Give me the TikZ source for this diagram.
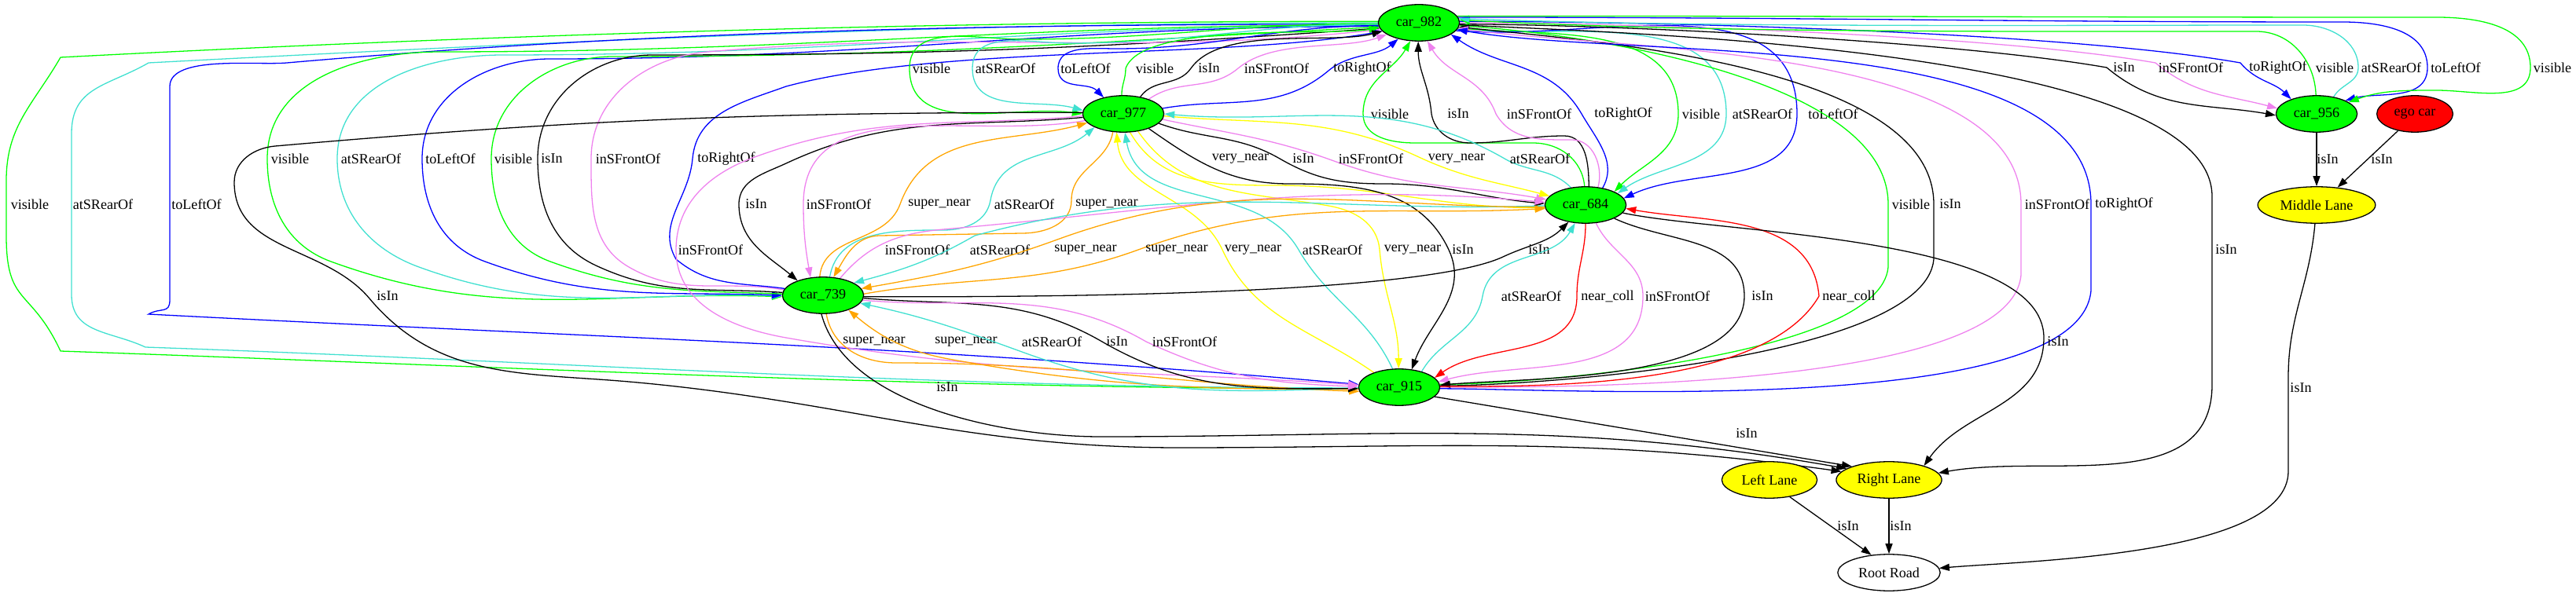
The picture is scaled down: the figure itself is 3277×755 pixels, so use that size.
\documentclass[tikz,border=0pt]{standalone}
\usepackage{fontspec}
\setmainfont{Liberation Serif}
\usetikzlibrary{arrows.meta, shapes.geometric}
\pgfdeclarelayer{edges}
\pgfsetlayers{edges,main}

\definecolor{gvgreen}{HTML}{00FF00}
\definecolor{gvturq}{HTML}{40E0D0}
\definecolor{gvblue}{HTML}{0000FF}
\definecolor{gvviolet}{HTML}{EE82EE}
\definecolor{gvyellow}{HTML}{FFFF00}
\definecolor{gvorange}{HTML}{FFA500}
\definecolor{gvred}{HTML}{FF0000}
\newcommand{\gvfont}{\fontsize{14pt}{16pt}\selectfont}

\begin{document}
\begin{tikzpicture}[
  x=0.775pt, y=-0.775pt,
  font=\gvfont,
  >={Triangle[length=10pt, width=7pt]},
  blob/.style  ={ellipse, draw, line width=1pt, inner sep=0pt, minimum width=80pt, minimum height=36pt},
  car/.style   ={blob, fill=gvgreen},
  egocar/.style={blob, fill=gvred, minimum width=75pt},
  lane/.style  ={blob, fill=gvyellow},
  road/.style  ={blob, fill=white, minimum width=101pt},
  rel/.style   ={->, line width=1pt},
  vis/.style   ={rel, draw=gvgreen},
  rear/.style  ={rel, draw=gvturq},
  lr/.style    ={rel, draw=gvblue},
  isin/.style  ={rel, draw=black},
  front/.style ={rel, draw=gvviolet},
  vnear/.style ={rel, draw=gvyellow},
  snear/.style ={rel, draw=gvorange},
  ncoll/.style ={rel, draw=gvred},
  lbl/.style   ={text=black, inner sep=0pt},
  % out angle, in angle, control distance
  gv/.style n args={3}{to path={.. controls +({-(#1)}:#3) and +({-(#2)}:#3) .. (\tikztotarget) \tikztonodes}},
]
\useasboundingbox (0,0) rectangle (3277,755);

% --- cars, lanes and road ---
\node[car] (c982) at (1805,29) {car\_982};
\node[car] (c977) at (1429,145) {car\_977};
\node[car] (c956) at (2947,145) {car\_956};
\node[egocar] (ego) at (3072,145) {ego car};
\node[car] (c684) at (2017,261) {car\_684};
\node[lane, minimum width=116pt] (midln) at (2947,261) {Middle Lane};
\node[car] (c739) at (1047,376) {car\_739};
\node[car] (c915) at (1780,493) {car\_915};
\node[lane, minimum width=94pt] (leftln) at (2251,611) {Left Lane};
\node[lane, minimum width=104pt] (rightln) at (2403,611) {Right Lane};
\node[road] (root) at (2403,729) {Root Road};

\begin{pgfonlayer}{edges}
% --- car_982 -> car_915, round the left side ---
\draw[vis]  (c982.178) to[gv={180}{3}{560}] (77,73) to[gv={-120}{90}{70}] (8,230) -- (8,300) to[gv={-90}{115}{90}] (77,447) to[gv={-2}{180}{550}] (c915.182) node[lbl] at (38,260) {visible};
\draw[rear] (c982.180) to[gv={180}{3}{540}] (189,80) to[gv={-150}{90}{60}] (91,170) -- (91,375) to[gv={-90}{155}{50}] (185,442) to[gv={-2}{180}{540}] (c915.181) node[lbl] at (131,260) {atSRearOf};
\draw[lr]   (c982.182) to[gv={180}{5}{480}] (365,80) to[gv={185}{90}{40}] (216,110) -- (216,382) to[gv={-90}{30}{18}] (189,400) to[gv={-3}{175}{570}] (c915.176) node[lbl] at (250,260) {toLeftOf};

% --- car_982 <-> car_739 ---
\draw[vis]  (c982.183) to[gv={180}{0}{466}] (560,66) to[gv={180}{90}{101}] (340,202) to[gv={-90}{160}{60}] (421,333) to[gv={-20}{178}{225}] (c739.182) node[lbl] at (369,202) {visible};
\draw[rear] (c982.184) to[gv={180}{0}{434}] (640,70) to[gv={180}{90}{97}] (429,202) to[gv={-90}{160}{67}] (533,340) to[gv={-20}{178}{181}] (c739.181) node[lbl] at (472,202) {atSRearOf};
\draw[lr]   (c982.185) to[gv={180}{0}{411}] (700,75) to[gv={180}{90}{81}] (537,202) to[gv={-90}{160}{60}] (617,333) to[gv={-20}{178}{148}] (c739.180) node[lbl] at (573,202) {toLeftOf};
\draw[vis]  (c739.178) to[gv={178}{-20}{116}] (700,333) to[gv={160}{-90}{59}] (625,202) to[gv={90}{180}{79}] (780,72) to[gv={0}{183}{380}] (c982.186) node[lbl] at (653,202) {visible};
\draw[isin] (c739.176) to[gv={176}{-25}{94}] (758,338) to[gv={155}{-90}{60}] (684,202) to[gv={90}{180}{77}] (830,70) to[gv={0}{184}{360}] (c982.188) node[lbl] at (702,202) {isIn};
\draw[front] (c739.172) to[gv={170}{-30}{77}] (800,340) to[gv={150}{-90}{57}] (752,202) to[gv={90}{185}{78}] (900,66) to[gv={5}{186}{333}] (c982.190) node[lbl] at (799,202) {inSFrontOf};
\draw[lr]   (c739.170) to[gv={172}{-40}{55}] (860,330) to[gv={120}{-95}{51}] (881,202) to[gv={85}{200}{59}] (1000,110) to[gv={15}{190}{207}] (c982.193) node[lbl] at (924,202) {toRightOf};

% --- car_982 <-> car_977 ---
\draw[vis]  (c982.181) to[gv={180}{0}{177}] (1300,50) to[gv={180}{90}{58}] (1157,87) to[gv={-90}{172}{89}] (c977.180) node[lbl] at (1185,87) {visible};
\draw[rear] (c982.182) to[gv={180}{0}{154}] (1360,55) to[gv={180}{90}{50}] (1237,87) to[gv={-90}{165}{59}] (c977.175) node[lbl] at (1279,87) {atSRearOf};
\draw[lr]   (c982.184) to[gv={180}{0}{131}] (1420,62) to[gv={180}{90}{30}] (1346,87) to[gv={-90}{135}{29}] (c977.140) node[lbl] at (1381,87) {toLeftOf};
\draw[vis]  (c977.95) to[gv={90}{-90}{14}] (1432,87) to[gv={70}{190}{64}] (c982.187) node[lbl] at (1469,87) {visible};
\draw[isin] (c977.45) to[gv={55}{-125}{29}] (1515,87) to[gv={55}{195}{67}] (c982.193) node[lbl] at (1538,87) {isIn};
\draw[front] (c977.30) to[gv={35}{-140}{47}] (1575,87) to[gv={40}{200}{59}] (c982.200) node[lbl] at (1624,87) {inSFrontOf};
\draw[lr]   (c977.8) to[gv={10}{-140}{84}] (1690,90) to[gv={40}{220}{35}] (c982.218) node[lbl] at (1733,87) {toRightOf};

% --- car_982 <-> car_684 ---
\draw[vis]  (c684.93) to[gv={95}{0}{34}] (1950,182) -- (1800,182) to[gv={180}{-90}{30}] (1734,145) to[gv={90}{240}{43}] (c982.245) node[lbl] at (1768,145) {visible};
\draw[isin] (c684.80) to[gv={90}{0}{28}] (1990,173) to[gv={180}{0}{47}] (1870,182) to[gv={180}{-80}{24}] (1821,145) to[gv={95}{-90}{37}] (c982.268) node[lbl] at (1855,145) {isIn};
\draw[front] (c684.55) to[gv={75}{0}{27}] (2000,178) to[gv={180}{-60}{40}] (1903,145) to[gv={110}{-60}{50}] (c982.295) node[lbl] at (1958,145) {inSFrontOf};
\draw[lr]   (c684.45) to[gv={60}{-60}{38}] (2012,145) to[gv={120}{-35}{76}] (c982.340) node[lbl] at (2065,145) {toRightOf};
\draw[vis]  (c982.-8) to[gv={-5}{90}{117}] (2135,145) to[gv={-90}{45}{50}] (c684.25) node[lbl] at (2164,145) {visible};
\draw[rear] (c982.-10) to[gv={-5}{90}{139}] (2196,145) to[gv={-90}{35}{65}] (c684.20) node[lbl] at (2242,145) {atSRearOf};
\draw[lr]   (c982.-12) to[gv={-5}{90}{173}] (2286,145) to[gv={-90}{25}{95}] (c684.10) node[lbl] at (2332,145) {toLeftOf};

% --- car_982 <-> car_956 ---
\draw[isin] (c982.-2) to[gv={0}{170}{193}] (2680,86) to[gv={-40}{170}{87}] (c956.182) node[lbl] at (2702,86) {isIn};
\draw[front] (c982.0) to[gv={0}{170}{207}] (2742,80) to[gv={-40}{165}{64}] (c956.172) node[lbl] at (2787,86) {inSFrontOf};
\draw[lr]   (c982.2) to[gv={0}{170}{233}] (2850,80) to[gv={-50}{135}{31}] (c956.150) node[lbl] at (2898,86) {toRightOf};
\draw[vis]  (c956.92) to[gv={92}{0}{44}] (2870,40) to[gv={180}{-3}{316}] (c982.4) node[lbl] at (2970,86) {visible};
\draw[rear] (c956.45) to[gv={60}{-90}{19}] (3000,86) to[gv={90}{0}{34}] (2930,32) to[gv={180}{-2}{335}] (c982.6) node[lbl] at (3042,86) {atSRearOf};
\draw[lr]   (c982.8) to[gv={0}{180}{440}] (2980,28) to[gv={0}{90}{48}] (3088,86) to[gv={-90}{15}{44}] (c956.25) node[lbl] at (3124,86) {toLeftOf};
\draw[vis]  (c982.10) to[gv={0}{180}{486}] (3100,22) to[gv={0}{90}{53}] (3219,86) to[gv={-90}{0}{48}] (3100,115) to[gv={180}{20}{44}] (c956.20) node[lbl] at (3247,86) {visible};

% --- car_915 -> car_982, round the right side ---
\draw[vis]  (c915.4) to[gv={0}{-95}{115}] (2402,340) -- (2402,260) to[gv={90}{-4}{161}] (c982.-4) node[lbl] at (2431,260) {visible};
\draw[isin] (c915.2) to[gv={0}{-95}{126}] (2460,330) -- (2460,260) to[gv={90}{-6}{176}] (c982.-6) node[lbl] at (2481,260) {isIn};
\draw[front] (c915.0) to[gv={0}{-95}{147}] (2571,350) -- (2571,260) to[gv={90}{-8}{204}] (c982.-8) node[lbl] at (2617,260) {inSFrontOf};
\draw[lr]   (c915.-2) to[gv={0}{-95}{163}] (2660,370) -- (2660,260) to[gv={90}{-10}{228}] (c982.-10) node[lbl] at (2702,260) {toRightOf};
\draw[isin] (c982.-3) to[gv={-3}{90}{191}] (2814,250) -- (2814,490) to[gv={-90}{10}{143}] (rightln.8) node[lbl] at (2832,318) {isIn};

% --- car_977 <-> car_739 ---
\draw[isin] (c977.185) to[gv={185}{25}{149}] (1000,208) to[gv={205}{90}{31}] (940,260) to[gv={-90}{140}{48}] (c739.150) node[lbl] at (962,260) {isIn};
\draw[front] (c977.190) to[gv={190}{90}{145}] (1022,260) to[gv={-90}{100}{36}] (c739.125) node[lbl] at (1067,260) {inSFrontOf};
\draw[snear] (c739.100) to[gv={85}{-110}{54}] (1145,260) to[gv={70}{195}{102}] (c977.194) node[lbl] at (1195,260) {super\_near};
\draw[rear] (c739.70) to[gv={80}{180}{61}] (1200,293) to[gv={0}{-100}{28}] (1260,255) to[gv={80}{-140}{65}] (c977.205) node[lbl] at (1303,260) {atSRearOf};
\draw[snear] (c977.240) to[gv={-100}{90}{40}] (1363,255) to[gv={-90}{0}{30}] (1300,297) -- (1120,300) to[gv={180}{60}{31}] (c739.60) node[lbl] at (1408,260) {super\_near};

% --- car_977 <-> car_684 ---
\draw[vnear] (c977.-70) to[gv={-60}{180}{76}] (1620,236) to[gv={0}{180}{135}] (c684.184) node[lbl] at (1578,202) {very\_near};
\draw[isin] (c977.-15) to[gv={-20}{150}{62}] (1628,202) to[gv={-30}{180}{53}] (1760,234) to[gv={0}{175}{80}] (c684.178) node[lbl] at (1658,202) {isIn};
\draw[front] (c977.-8) to[gv={-12}{160}{87}] (1697,205) to[gv={-20}{170}{107}] (c684.172) node[lbl] at (1744,202) {inSFrontOf};
\draw[vnear] (c977.-3) to[gv={-5}{155}{128}] (1805,200) to[gv={-25}{165}{66}] (c684.166) node[lbl] at (1853,202) {very\_near};
\draw[rear] (c684.130) to[gv={135}{-30}{36}] (1914,202) to[gv={150}{-5}{170}] (c977.0) node[lbl] at (1959,202) {atSRearOf};

% --- car_977 <-> car_915 ---
\draw[front] (c977.183) to[gv={185}{20}{164}] (960,200) to[gv={200}{90}{60}] (860,318) to[gv={-90}{170}{70}] (1000,430) to[gv={-10}{176}{285}] (c915.177) node[lbl] at (904,318) {inSFrontOf};
\draw[vnear] (c915.150) to[gv={145}{-65}{97}] (1555,318) to[gv={115}{-85}{78}] (c977.250) node[lbl] at (1594,318) {very\_near};
\draw[rear] (c915.110) to[gv={115}{-60}{75}] (1652,318) to[gv={120}{-80}{104}] (c977.275) node[lbl] at (1695,318) {atSRearOf};
\draw[vnear] (c977.-50) to[gv={-55}{170}{101}] (1690,262) to[gv={-10}{95}{34}] (1755,318) to[gv={-85}{90}{60}] (c915.92) node[lbl] at (1797,318) {very\_near};
\draw[isin] (c977.-30) to[gv={-35}{180}{75}] (1640,234) to[gv={0}{115}{86}] (1843,318) to[gv={-65}{70}{62}] (c915.55) node[lbl] at (1861,318) {isIn};

% --- car_739 <-> car_684 ---
\draw[front] (c739.45) to[gv={50}{185}{57}] (1200,292) to[gv={5}{175}{299}] (c684.176) node[lbl] at (1167,318) {inSFrontOf};
\draw[rear] (c684.181) to[gv={182}{15}{283}] (1240,300) to[gv={210}{15}{64}] (c739.22) node[lbl] at (1272,318) {atSRearOf};
\draw[snear] (c684.183) to[gv={180}{20}{242}] (1345,305) to[gv={200}{10}{100}] (c739.10) node[lbl] at (1381,318) {super\_near};
\draw[snear] (c739.2) to[gv={10}{-160}{138}] (1448,318) to[gv={20}{183}{203}] (c684.185) node[lbl] at (1497,318) {super\_near};
\draw[isin] (c739.-2) to[gv={0}{-155}{127}] (1912,327) to[gv={25}{-135}{37}] (c684.225) node[lbl] at (1958,318) {isIn};

% --- car_739 <-> car_915 ---
\draw[snear] (c739.-80) to[gv={-80}{180}{43}] (1140,462) to[gv={0}{178}{230}] (c915.186) node[lbl] at (1112,435) {super\_near};
\draw[snear] (c915.183) to[gv={180}{-10}{202}] (1212,458) to[gv={170}{-40}{57}] (c739.-30) node[lbl] at (1229,435) {super\_near};
\draw[rear] (c915.181) to[gv={182}{-20}{168}] (1300,448) to[gv={160}{-12}{83}] (c739.-12) node[lbl] at (1338,435) {atSRearOf};
\draw[isin] (c739.-4) to[gv={-5}{150}{120}] (1402,435) to[gv={-30}{180}{129}] (c915.182) node[lbl] at (1421,435) {isIn};
\draw[front] (c739.-7) to[gv={-5}{150}{142}] (1458,435) to[gv={-25}{178}{108}] (c915.179) node[lbl] at (1507,435) {inSFrontOf};

% --- car_684 <-> car_915 ---
\draw[rear] (c915.35) to[gv={60}{-100}{48}] (1886,377) to[gv={80}{-120}{59}] (c684.240) node[lbl] at (1948,377) {atSRearOf};
\draw[ncoll] (c684.-90) to[gv={-90}{90}{37}] (2006,377) to[gv={-90}{35}{81}] (c915.15) node[lbl] at (2045,377) {near\_coll};
\draw[front] (c684.-60) to[gv={-65}{90}{43}] (2090,377) to[gv={-90}{15}{110}] (c915.8) node[lbl] at (2134,377) {inSFrontOf};
\draw[isin] (c684.-25) to[gv={-25}{90}{75}] (2219,377) to[gv={-90}{5}{110}] (c915.3) node[lbl] at (2242,377) {isIn};
\draw[ncoll] (c915.1) to[gv={0}{-120}{135}] (2314,377) to[gv={95}{-10}{105}] (c684.-5) node[lbl] at (2352,377) {near\_coll};

% --- lanes and road ---
\draw[isin] (c684.-12) to[gv={-12}{90}{131}] (2600,430) to[gv={-90}{55}{87}] (rightln.22) node[lbl] at (2618,435) {isIn};
\draw[isin] (c915.-15) -- (rightln.160) node[lbl] at (2222,552) {isIn};
\draw[isin] (c739.-95) to[gv={-75}{180}{121}] (1400,556) to[gv={0}{170}{367}] (rightln.165) node[lbl] at (1205,493) {isIn};
\draw[isin] (c977.178) to[gv={180}{5}{401}] (350,186) to[gv={185}{90}{27}] (298,232) to[gv={-90}{130}{89}] (470,380) to[gv={-50}{175}{135}] (800,486) to[gv={-5}{180}{275}] (1500,570) to[gv={0}{172}{329}] (rightln.170) node[lbl] at (493,377) {isIn};
\draw[isin] (c956.-90) -- (midln.90) node[lbl] at (2961,203) {isIn};
\draw[isin] (ego.-135) -- (midln.40) node[lbl] at (3030,203) {isIn};
\draw[isin] (midln.-95) to[gv={-95}{90}{78}] (2911,480) -- (2911,600) to[gv={-90}{5}{108}] (root.5) node[lbl] at (2927,494) {isIn};
\draw[isin] (leftln.-40) -- (root.135) node[lbl] at (2351,670) {isIn};
\draw[isin] (rightln.-90) -- (root.90) node[lbl] at (2418,670) {isIn};
\end{pgfonlayer}

\end{tikzpicture}
\end{document}
